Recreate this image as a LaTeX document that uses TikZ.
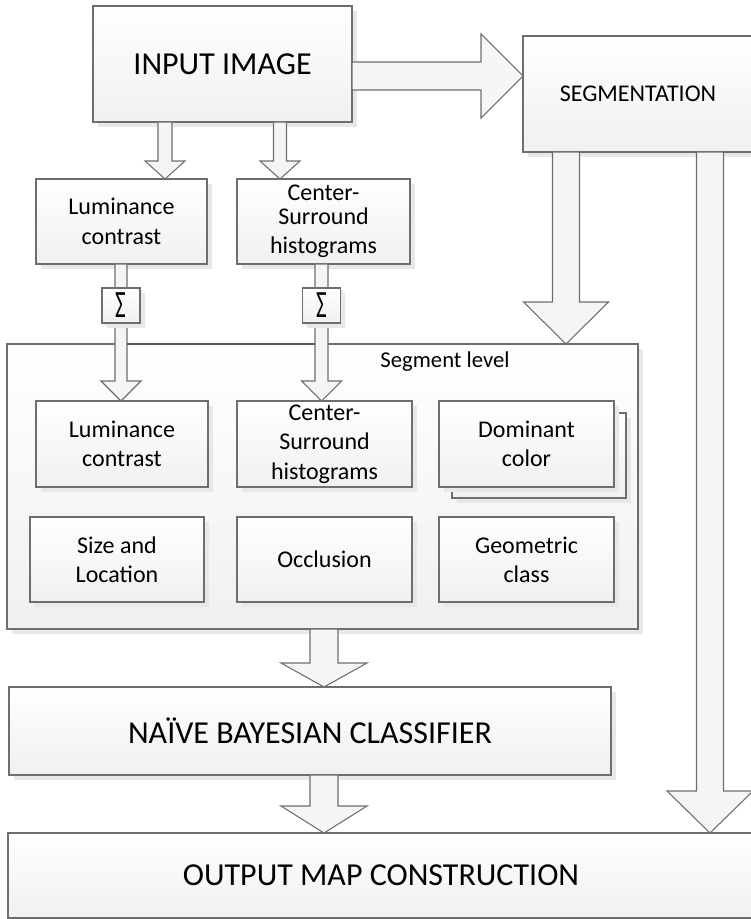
\documentclass[tikz,border=0pt]{standalone}
\usepackage{fontspec}
\usepackage{graphicx}
\setmainfont{Carlito}
\usetikzlibrary{calc,shadows}
\definecolor{bd}{HTML}{6E6E6E}
\definecolor{shd}{HTML}{E8E8E8}
\definecolor{afill}{HTML}{F5F5F5}
\definecolor{bfill}{HTML}{F0F0F0}
% vertical block arrow: #1 start, #2 tip, #3 shaft half width, #4 head half width, #5 head length (px)
\newcommand\varr[5]{%
  \draw[barrow] let \p1=(#1), \p2=(#2) in
    (\x1-#3*0.75pt,\y1) -- (\x1-#3*0.75pt,\y2+#5*0.75pt) -- (\x1-#4*0.75pt,\y2+#5*0.75pt)
    -- (\x1,\y2) -- (\x1+#4*0.75pt,\y2+#5*0.75pt) -- (\x1+#3*0.75pt,\y2+#5*0.75pt)
    -- (\x1+#3*0.75pt,\y1) -- cycle;}
% horizontal block arrow
\newcommand\harr[5]{%
  \draw[barrow] let \p1=(#1), \p2=(#2) in
    (\x1,\y1+#3*0.75pt) -- (\x2-#5*0.75pt,\y1+#3*0.75pt) -- (\x2-#5*0.75pt,\y1+#4*0.75pt)
    -- (\x2,\y1) -- (\x2-#5*0.75pt,\y1-#4*0.75pt) -- (\x2-#5*0.75pt,\y1-#3*0.75pt)
    -- (\x1,\y1-#3*0.75pt) -- cycle;}
\newcommand\sumsign{\fontsize{29}{29}\selectfont\scalebox{0.6}[1]{Σ}}
\begin{document}
\begin{tikzpicture}[x=0.75pt,y=-0.75pt,
  box/.style={draw=bd, line width=0.8pt, top color=white, bottom color=bfill,
    inner sep=0pt, outer sep=0pt, align=center,
    drop shadow={shadow xshift=3.5pt,shadow yshift=-3.5pt,fill=shd,opacity=1}},
  sumbox/.style={box, wh={38}{35},
    drop shadow={shadow xshift=1.5pt,shadow yshift=-1.5pt,fill=shd,opacity=1}},
  wh/.style 2 args={minimum width={#1*0.75pt}, minimum height={#2*0.75pt}},
  big/.style={font=\fontsize{24}{29}\selectfont},
  mid/.style={font=\fontsize{18}{22}\selectfont},
  barrow/.style={draw=bd, line width=0.8pt, fill=afill}]
\useasboundingbox (0,0) rectangle (750,919);

% main boxes
\node[box, wh={259}{116}, big] (in) at (222.5,64) {INPUT IMAGE};
\node[box, wh={230}{116}, mid] (seg) at (638,94) {SEGMENTATION};
\node[box, wh={171}{85}, mid] (lum1) at (121.5,221.5) {Luminance\\contrast};
\node[box, wh={173}{85}, mid] (cs1) at (323.5,221.5) {Center-\\[-4pt]Surround\\histograms};

% arrow positions
\coordinate (xa1) at (165,0);
\coordinate (xa2) at (280,0);
\coordinate (xa5) at (566,0);
\coordinate (xa6) at (710,0);
\coordinate (xa7) at (324,0);
\coordinate (ya0) at (0,76);
\coordinate (s1) at (121,305.5);
\coordinate (s2) at (321.5,305.5);

\harr{in.east |- ya0}{seg.west |- ya0}{14}{42}{42}
\varr{xa1 |- in.south}{xa1 |- lum1.north}{7}{20}{18}
\varr{xa2 |- in.south}{xa2 |- cs1.north}{6.5}{20}{18}

% segment level container
\node[box, wh={631}{285}] (cont) at (322.5,486.5) {};
\node[font=\fontsize{17}{20}\selectfont, inner sep=0pt] (seglbl) at (445,362) {Segment level};

% inner boxes
\node[box, wh={172}{86}, mid] (lum2) at (122,444) {Luminance\\contrast};
\node[box, wh={175}{86}, mid] (cs2) at (324.5,444) {Center-\\Surround\\histograms};
\node[box, wh={174}{85}] (domb) at (539,455.5) {};
\node[box, wh={175}{86}, mid] (dom) at (526.5,444) {Dominant\\color};
\node[box, wh={174}{85}, mid] (size) at (117,559.5) {Size and\\Location};
\node[box, wh={175}{85}, mid] (occ) at (324.5,559.5) {Occlusion};
\node[box, wh={175}{85}, mid] (geo) at (526.5,559.5) {Geometric\\class};

% arrows through sum boxes
\varr{s1 |- lum1.south}{s1 |- lum2.north}{6}{20}{20}
\varr{s2 |- cs1.south}{s2 |- cs2.north}{6.5}{20}{20}
\node[sumbox] (sum1) at (s1) {\sumsign};
\node[sumbox] (sum2) at (s2) {\sumsign};
\draw[bd!80!black, line width=1.5pt] ($(sum1 |- cont.north)+(6,0)$) -- ($(sum2 |- cont.north)+(-6.5,0)$);

% lower boxes
\node[box, wh={602}{88}, big] (nb) at (310,731) {NAÏVE BAYESIAN CLASSIFIER};
\node[box, wh={746}{85}, big] (out) at (381,875.5) {OUTPUT MAP CONSTRUCTION};

\varr{xa5 |- seg.south}{xa5 |- cont.north}{13.5}{42.5}{42}
\varr{xa6 |- seg.south}{xa6 |- out.north}{13.5}{43}{42}
\varr{xa7 |- cont.south}{xa7 |- nb.north}{14}{43}{24}
\varr{xa7 |- nb.south}{xa7 |- out.north}{14}{43}{27}
\end{tikzpicture}
\end{document}
